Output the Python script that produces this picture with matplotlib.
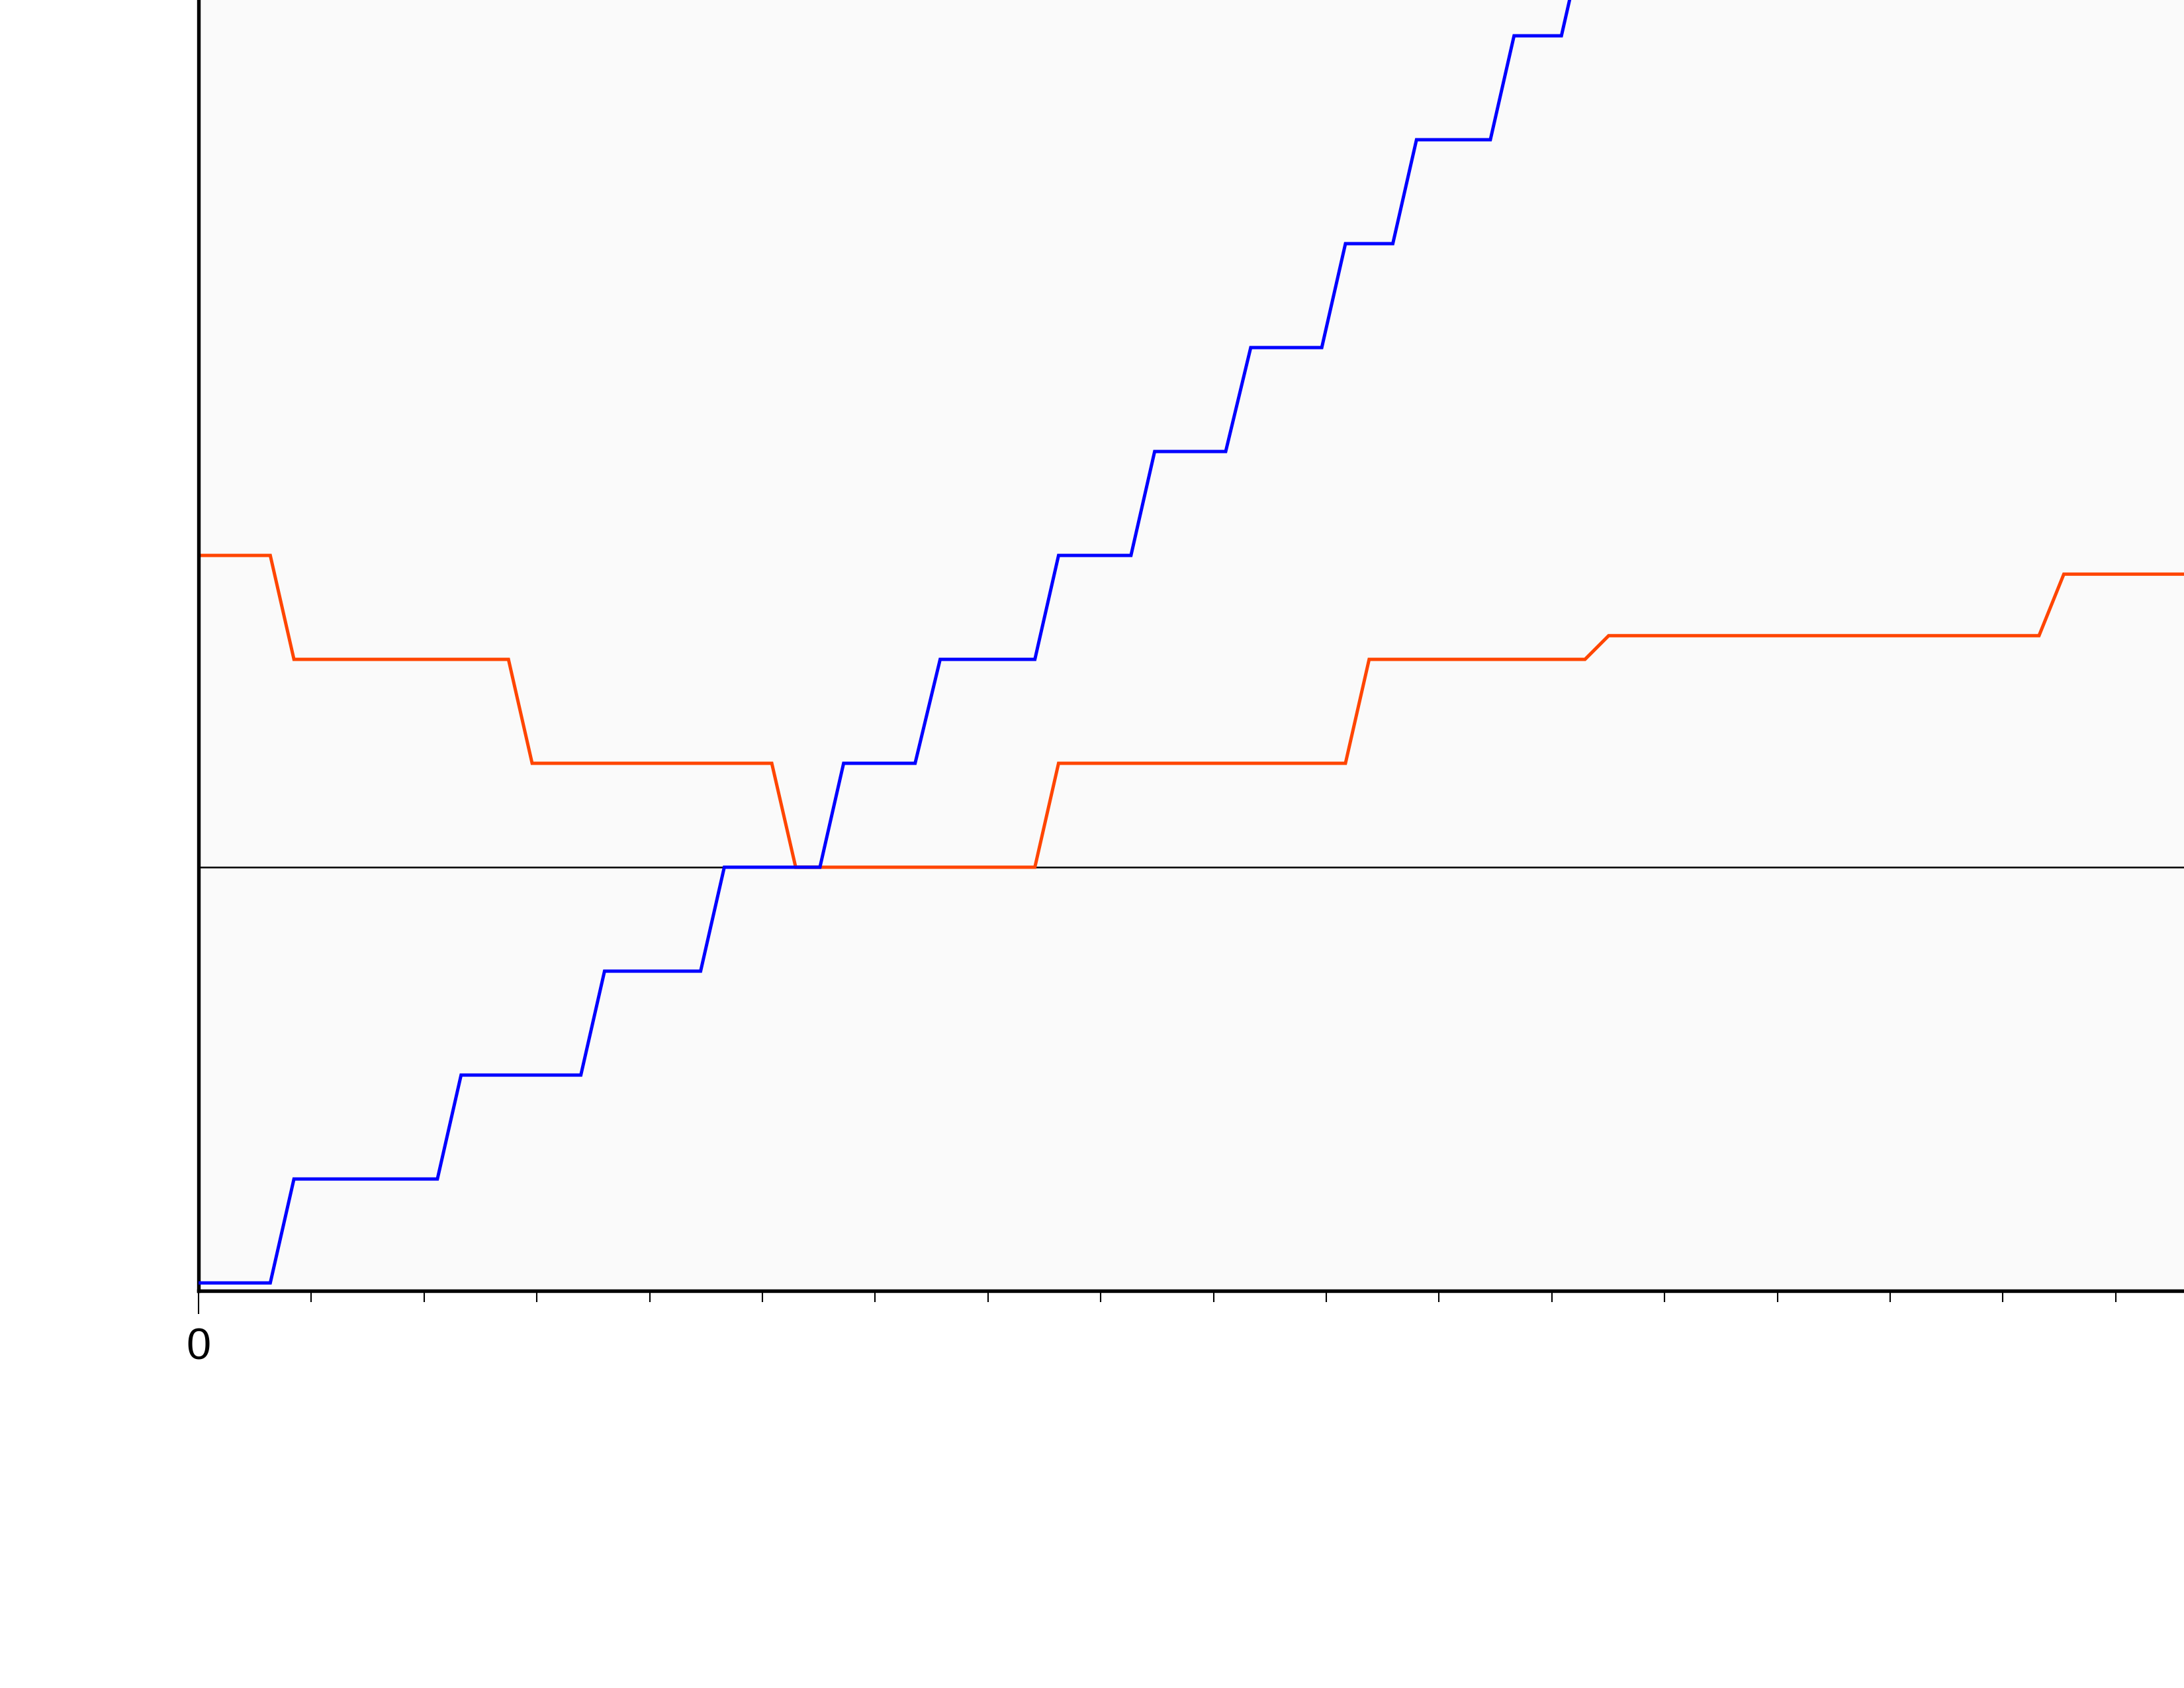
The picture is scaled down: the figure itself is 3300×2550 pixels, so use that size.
import matplotlib
matplotlib.use("Agg")
import matplotlib.pyplot as plt
from matplotlib.ticker import FixedLocator, FixedFormatter, MultipleLocator

plt.rcParams["font.family"] = ["Liberation Sans", "DejaVu Sans"]

# Data (x in tick units, y in level steps)
blue_x = [0.0, 0.636, 0.846, 2.118, 2.328, 3.390, 3.600, 4.452, 4.662, 5.510,
          5.720, 6.354, 6.576, 7.416, 7.626, 8.268, 8.478, 9.108, 9.330, 9.960,
          10.170, 10.590, 10.800, 11.455, 11.665, 12.085, 12.295]
blue_y = [-4, -4, -3, -3, -2, -2, -1, -1, 0, 0,
          1, 1, 2, 2, 3, 3, 4, 4, 5, 5,
          6, 6, 7, 7, 8, 8, 9]

orange_x = [0.0, 0.636, 0.846, 2.748, 2.958, 5.083, 5.295, 7.416, 7.626, 10.170,
            10.380, 12.294, 12.504, 16.320, 16.540, 18.0]
orange_y = [3, 3, 2, 2, 1, 1, 0, 0, 1, 1, 2, 2, 2.228, 2.228, 2.82, 2.82]

xtick_major = [0]
xtick_labels = ["0"]

fig = plt.figure(figsize=(11, 8.5), dpi=300)
fig.patch.set_facecolor("white")

W, H = 3300, 2550
left_px, bottom_px = 300, 1950
xunit_px, yunit_px = 170.4, 157.0
xmin, xmax = 0.0, 18.0
ymin, ymax = -4.076, 9.0
ax = fig.add_axes([left_px / W, (H - bottom_px) / H,
                   (xmax - xmin) * xunit_px / W, (ymax - ymin) * yunit_px / H])
ax.set_facecolor("#FAFAFA")
ax.set_xlim(xmin, xmax)
ax.set_ylim(ymin, ymax)

ax.axhline(0, color="black", lw=0.6, zorder=1)
ax.plot(blue_x, blue_y, color="#0000FF", lw=1.2, zorder=3, solid_joinstyle="miter")
ax.plot(orange_x, orange_y, color="#FF4500", lw=1.2, zorder=2, solid_joinstyle="miter")

for s in ["top", "right"]:
    ax.spines[s].set_visible(False)
for s in ["left", "bottom"]:
    ax.spines[s].set_linewidth(1.3)
    ax.spines[s].set_color("black")

ax.xaxis.set_major_locator(FixedLocator(xtick_major))
ax.xaxis.set_major_formatter(FixedFormatter(xtick_labels))
ax.xaxis.set_minor_locator(MultipleLocator(1))
ax.tick_params(axis="x", which="major", length=8.4, width=0.5, pad=5,
               labelsize=16, direction="out")
ax.tick_params(axis="x", which="minor", length=4, width=0.5, direction="out")
ax.set_yticks([])

fig.savefig("out.png", dpi=300, facecolor="white")
